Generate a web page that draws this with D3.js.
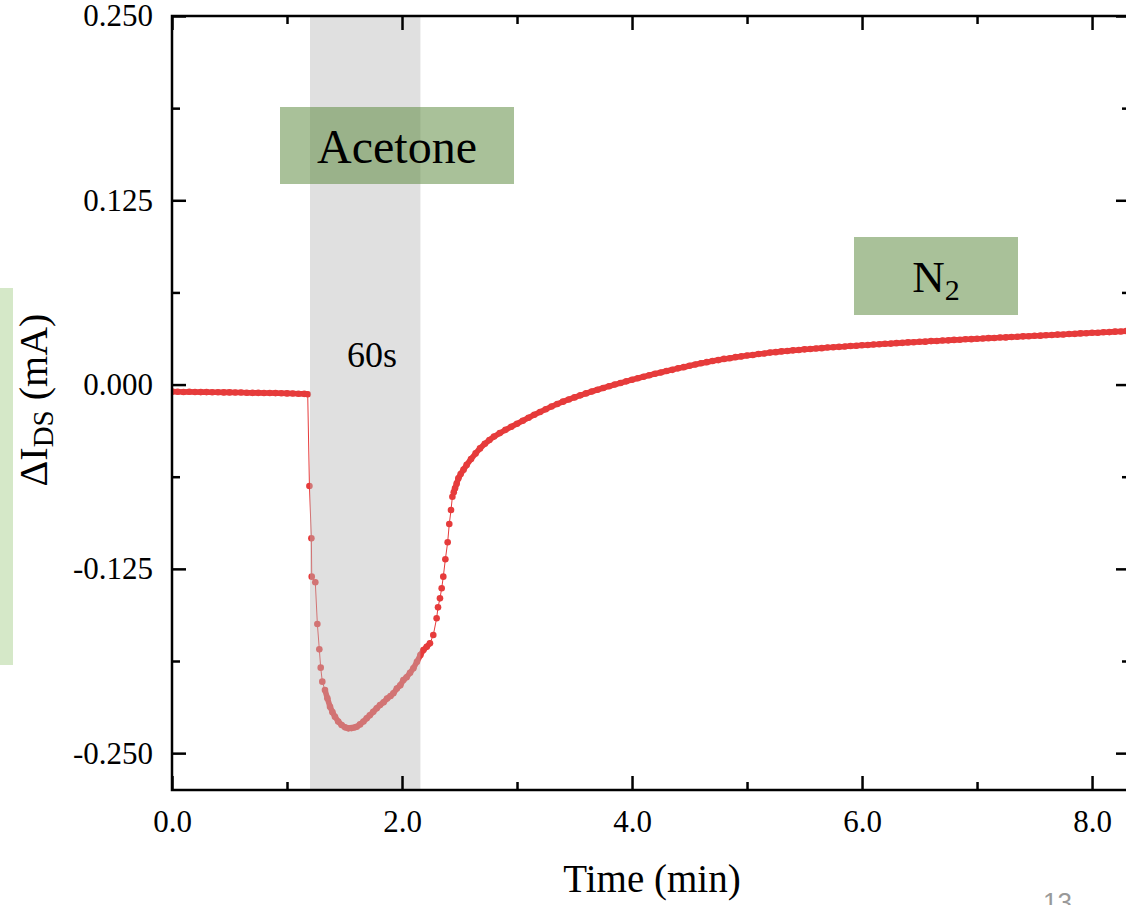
<!DOCTYPE html>
<html>
<head>
<meta charset="utf-8">
<script src="https://cdn.jsdelivr.net/npm/d3@7"></script>
<style>
  body { margin: 0; background: #fff; }
  svg { display: block; }
</style>
</head>
<body>
<div id="container"></div>
<script>
"use strict";

const width = 1126;
const height = 905;

// axis ticks and labels
const xTicks = [0, 2, 4, 6, 8];
const xTickLabels = ["0.0", "2.0", "4.0", "6.0", "8.0"];
const xMinorTicks = [1, 3, 5, 7];
const yTicks = [-0.25, -0.125, 0, 0.125, 0.25];
const yTickLabels = ["-0.250", "-0.125", "0.000", "0.125", "0.250"];
const yMinorTicks = [-0.1875, -0.0625, 0.0625, 0.1875];

// acetone exposure window (min)
const exposure = [1.2, 2.16];

// stretches where the logger sampled so densely that the dots merge into a band
const denseRanges = [[0, 1.18], [1.33, 2.26], [2.44, 8.35]];

const samples = [
  [0.00, -0.0048], [0.05, -0.0049], [0.10, -0.0050], [0.15, -0.0049], [0.20, -0.0050],
  [0.25, -0.0051], [0.30, -0.0051], [0.35, -0.0052], [0.40, -0.0052], [0.45, -0.0053],
  [0.50, -0.0053], [0.55, -0.0054], [0.60, -0.0054], [0.65, -0.0055], [0.70, -0.0056],
  [0.75, -0.0056], [0.80, -0.0057], [0.85, -0.0057], [0.90, -0.0058], [0.95, -0.0059],
  [1.00, -0.0060], [1.05, -0.0061], [1.10, -0.0062], [1.15, -0.0063], [1.18, -0.0066],
  // acetone on
  [1.195, -0.0688], [1.212, -0.1043], [1.215, -0.1303], [1.246, -0.1341], [1.264, -0.1624],
  [1.281, -0.1796], [1.293, -0.1920], [1.307, -0.2015], [1.330, -0.2072], [1.351, -0.2128],
  [1.374, -0.2185], [1.395, -0.2222], [1.417, -0.2253], [1.445, -0.2285], [1.475, -0.2309],
  [1.505, -0.2325], [1.533, -0.2332], [1.560, -0.2330], [1.585, -0.2326], [1.606, -0.2321],
  [1.635, -0.2305], [1.665, -0.2285], [1.693, -0.2264], [1.720, -0.2243], [1.750, -0.2220],
  [1.780, -0.2196], [1.809, -0.2173], [1.840, -0.2155], [1.870, -0.2130], [1.900, -0.2112],
  [1.925, -0.2094], [1.955, -0.2062], [1.985, -0.2040], [2.012, -0.2004], [2.040, -0.1985],
  [2.070, -0.1955], [2.099, -0.1924], [2.130, -0.1880], [2.160, -0.1835], [2.186, -0.1800],
  // recovery under N2
  [2.215, -0.1778], [2.243, -0.1755], [2.272, -0.1699], [2.301, -0.1585], [2.313, -0.1511],
  [2.330, -0.1450], [2.345, -0.1382], [2.359, -0.1303], [2.377, -0.1185], [2.397, -0.1070],
  [2.411, -0.0946], [2.426, -0.0851], [2.438, -0.0761], [2.450, -0.0730], [2.461, -0.0704],
  [2.475, -0.0672], [2.490, -0.0636], [2.510, -0.0607], [2.535, -0.0577], [2.562, -0.0545],
  [2.600, -0.0505], [2.640, -0.0467], [2.678, -0.0433], [2.720, -0.0402], [2.760, -0.0376],
  [2.800, -0.0353], [2.850, -0.0329], [2.900, -0.0307], [2.950, -0.0286], [3.000, -0.0266],
  [3.05, -0.0245], [3.10, -0.0225], [3.15, -0.0205], [3.20, -0.0186], [3.25, -0.0167],
  [3.30, -0.0149], [3.35, -0.0132], [3.40, -0.0116], [3.45, -0.0101], [3.50, -0.0087],
  [3.55, -0.0073], [3.60, -0.0060], [3.65, -0.0047], [3.70, -0.0035], [3.75, -0.0023],
  [3.80, -0.0011], [3.85, 0.0000], [3.90, 0.0011], [3.95, 0.0022], [4.00, 0.0033],
  [4.05, 0.0043], [4.10, 0.0053], [4.15, 0.0063], [4.20, 0.0073], [4.25, 0.0082],
  [4.30, 0.0092], [4.35, 0.0100], [4.40, 0.0110], [4.45, 0.0118], [4.50, 0.0128],
  [4.55, 0.0136], [4.60, 0.0145], [4.65, 0.0152], [4.70, 0.0160], [4.75, 0.0166],
  [4.80, 0.0174], [4.85, 0.0179], [4.90, 0.0186], [4.95, 0.0191], [5.00, 0.0197],
  [5.05, 0.0201], [5.10, 0.0207], [5.15, 0.0211], [5.20, 0.0217], [5.25, 0.0220],
  [5.30, 0.0225], [5.35, 0.0228], [5.40, 0.0232], [5.45, 0.0235], [5.50, 0.0239],
  [5.55, 0.0241], [5.60, 0.0245], [5.65, 0.0247], [5.70, 0.0251], [5.75, 0.0253],
  [5.80, 0.0256], [5.85, 0.0258], [5.90, 0.0262], [5.95, 0.0263], [6.00, 0.0267],
  [6.05, 0.0268], [6.10, 0.0272], [6.15, 0.0273], [6.20, 0.0277], [6.25, 0.0278],
  [6.30, 0.0281], [6.35, 0.0283], [6.40, 0.0286], [6.45, 0.0287], [6.50, 0.0290],
  [6.55, 0.0291], [6.60, 0.0295], [6.65, 0.0296], [6.70, 0.0299], [6.75, 0.0300],
  [6.80, 0.0303], [6.85, 0.0304], [6.90, 0.0307], [6.95, 0.0308], [7.00, 0.0311],
  [7.05, 0.0312], [7.10, 0.0315], [7.15, 0.0316], [7.20, 0.0319], [7.25, 0.0320],
  [7.30, 0.0323], [7.35, 0.0324], [7.40, 0.0327], [7.45, 0.0328], [7.50, 0.0331],
  [7.55, 0.0332], [7.60, 0.0335], [7.65, 0.0336], [7.70, 0.0339], [7.75, 0.0340],
  [7.80, 0.0343], [7.85, 0.0344], [7.90, 0.0347], [7.95, 0.0348], [8.00, 0.0351],
  [8.05, 0.0352], [8.10, 0.0355], [8.15, 0.0356], [8.20, 0.0359], [8.25, 0.0360],
  [8.30, 0.0363], [8.35, 0.0364]
];

const serif = "'Liberation Serif', 'Times New Roman', serif";
const red = "#e63b3b";

// plot box: right edge runs past the window, as in the original slide
const x = d3.scaleLinear().domain([0, 8.33]).range([172, 1130]);
const y = d3.scaleLinear().domain([-0.275, 0.25]).range([790, 16]);

const svg = d3.select("#container").append("svg")
    .attr("width", width)
    .attr("height", height);

// light green strip behind the y title
svg.append("rect")
    .attr("x", 0).attr("y", 288)
    .attr("width", 13).attr("height", 377)
    .attr("fill", "#d5e8c8");

svg.append("clipPath").attr("id", "plotclip")
  .append("rect")
    .attr("x", x.range()[0]).attr("y", y.range()[1])
    .attr("width", x.range()[1] - x.range()[0])
    .attr("height", y.range()[0] - y.range()[1]);

const plot = svg.append("g").attr("clip-path", "url(#plotclip)");

const line = d3.line().x(d => x(d[0])).y(d => y(d[1]));

// thin connecting line
plot.append("path")
    .datum(samples)
    .attr("fill", "none")
    .attr("stroke", red)
    .attr("stroke-width", 1)
    .attr("d", line);

// where dots overlap they read as a thick band
plot.selectAll(".dense")
    .data(denseRanges.map(r => samples.filter(d => d[0] >= r[0] && d[0] <= r[1])))
    .enter()
    .append("path")
    .attr("class", "dense")
    .attr("fill", "none")
    .attr("stroke", red)
    .attr("stroke-width", 5.6)
    .attr("stroke-linecap", "round")
    .attr("stroke-linejoin", "round")
    .attr("d", line);

plot.selectAll("circle")
    .data(samples)
    .enter()
    .append("circle")
    .attr("cx", d => x(d[0]))
    .attr("cy", d => y(d[1]))
    .attr("r", 3.3)
    .attr("fill", red);

// grey exposure band drawn over the data (makes the dots look faded)
plot.append("rect")
    .attr("x", x(exposure[0]))
    .attr("y", y.range()[1])
    .attr("width", x(exposure[1]) - x(exposure[0]))
    .attr("height", y.range()[0] - y.range()[1])
    .attr("fill", "#bbbbbb")
    .attr("opacity", 0.45);

// label boxes
svg.append("rect")
    .attr("x", 280).attr("y", 107).attr("width", 234).attr("height", 77)
    .attr("fill", "rgb(90,136,60)").attr("fill-opacity", 0.52);
svg.append("text")
    .attr("x", 397).attr("y", 163)
    .attr("text-anchor", "middle")
    .style("font-family", serif).style("font-size", "48px")
    .text("Acetone");

svg.append("rect")
    .attr("x", 854).attr("y", 237).attr("width", 164).attr("height", 78)
    .attr("fill", "rgb(90,136,60)").attr("fill-opacity", 0.52);
const n2 = svg.append("text")
    .attr("x", 936).attr("y", 292)
    .attr("text-anchor", "middle")
    .style("font-family", serif).style("font-size", "45px");
n2.append("tspan").text("N");
n2.append("tspan").attr("dy", 8).style("font-size", "30px").text("2");

svg.append("text")
    .attr("x", 372).attr("y", 367)
    .attr("text-anchor", "middle")
    .style("font-family", serif).style("font-size", "36px")
    .text("60s");

// axes, ticks pointing inward
function styleAxis(g) {
    g.select(".domain").remove();
    g.selectAll("line").attr("stroke", "#000").attr("stroke-width", 2.5);
    g.selectAll("text")
        .attr("fill", "#000")
        .style("font-family", serif)
        .style("font-size", "31px");
}

svg.append("g")
    .attr("transform", `translate(0,${y.range()[0]})`)
    .call(d3.axisBottom(x).tickValues(xTicks).tickSize(-14).tickPadding(20)
        .tickFormat((d, i) => xTickLabels[i]))
    .call(styleAxis);
svg.append("g")
    .attr("transform", `translate(0,${y.range()[0]})`)
    .call(d3.axisBottom(x).tickValues(xMinorTicks).tickSize(-8).tickFormat(""))
    .call(styleAxis);

svg.append("g")
    .attr("transform", `translate(0,${y.range()[1]})`)
    .call(d3.axisTop(x).tickValues(xTicks).tickSize(-14).tickFormat(""))
    .call(styleAxis);
svg.append("g")
    .attr("transform", `translate(0,${y.range()[1]})`)
    .call(d3.axisTop(x).tickValues(xMinorTicks).tickSize(-8).tickFormat(""))
    .call(styleAxis);

svg.append("g")
    .attr("transform", `translate(${x.range()[0]},0)`)
    .call(d3.axisLeft(y).tickValues(yTicks).tickSize(-14).tickPadding(19)
        .tickFormat((d, i) => yTickLabels[i]))
    .call(styleAxis);
svg.append("g")
    .attr("transform", `translate(${x.range()[0]},0)`)
    .call(d3.axisLeft(y).tickValues(yMinorTicks).tickSize(-8).tickFormat(""))
    .call(styleAxis);

svg.append("g")
    .attr("transform", `translate(${x.range()[1]},0)`)
    .call(d3.axisRight(y).tickValues(yTicks).tickSize(-14).tickFormat(""))
    .call(styleAxis);
svg.append("g")
    .attr("transform", `translate(${x.range()[1]},0)`)
    .call(d3.axisRight(y).tickValues(yMinorTicks).tickSize(-8).tickFormat(""))
    .call(styleAxis);

// frame
svg.append("rect")
    .attr("x", x.range()[0]).attr("y", y.range()[1])
    .attr("width", x.range()[1] - x.range()[0])
    .attr("height", y.range()[0] - y.range()[1])
    .attr("fill", "none")
    .attr("stroke", "#000")
    .attr("stroke-width", 2.5);

// axis titles
svg.append("text")
    .attr("x", 652).attr("y", 892)
    .attr("text-anchor", "middle")
    .style("font-family", serif).style("font-size", "39px")
    .text("Time (min)");

const yTitle = svg.append("text")
    .attr("transform", "translate(47,400) rotate(-90)")
    .attr("text-anchor", "middle")
    .style("font-family", serif).style("font-size", "40px");
yTitle.append("tspan").text("ΔI");
yTitle.append("tspan").attr("dy", 6).style("font-size", "29px").text("DS");
yTitle.append("tspan").attr("dy", -6).text(" (mA)");

// slide page number
svg.append("text")
    .attr("x", 1043).attr("y", 911)
    .style("font-family", "'Liberation Sans', Arial, sans-serif")
    .style("font-size", "26px")
    .attr("fill", "#999")
    .text("13");
</script>
</body>
</html>
